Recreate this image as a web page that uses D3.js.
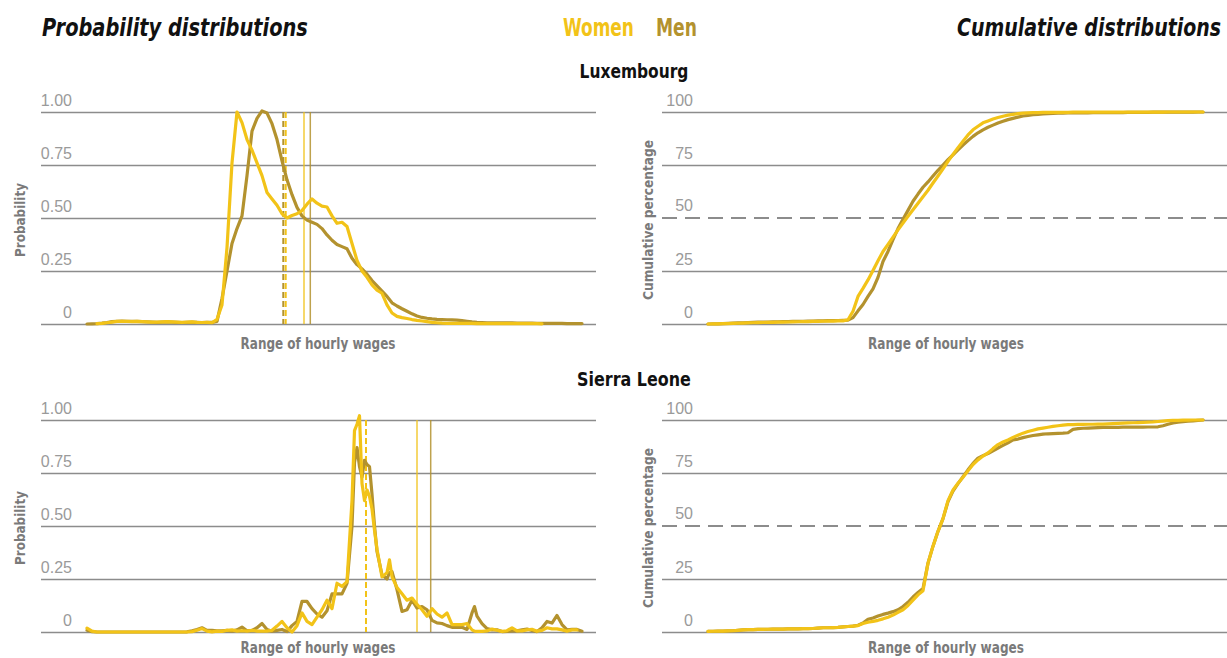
<!DOCTYPE html>
<html>
<head>
<meta charset="utf-8">
<script src="https://cdn.jsdelivr.net/npm/d3@7"></script>
<style>
  html, body { margin: 0; padding: 0; background: #fff; }
  svg { display: block; }
  .cond { font-family: "Liberation Sans Narrow", "DejaVu Sans Condensed", "Liberation Sans", Arial, sans-serif; }
  .tick text { font-family: "Liberation Sans", Arial, sans-serif; font-size: 16px; fill: #9a9a9a; }
</style>
</head>
<body>
<svg id="chart" width="1227" height="658"></svg>
<script>
// ---------------- DATA ----------------
const seriesNames = ["Women", "Men"];
const countries = ["Luxembourg", "Sierra Leone"];
const probTicks = [0, 0.25, 0.5, 0.75, 1];
const probTickLabels = ["0", "0.25", "0.50", "0.75", "1.00"];
const cumTicks = [0, 25, 75, 100];
const cumTickLabels = ["0", "25", "75", "100"];
const cumLabel50 = "50";

// Luxembourg probability distribution (by wage bin 0..99)
const luxMen = [0.0,0.001,0.002,0.004,0.007,0.011,0.013,0.014,0.013,0.012,
  0.012,0.011,0.01,0.009,0.008,0.009,0.01,0.009,0.008,0.007,
  0.008,0.009,0.008,0.007,0.008,0.008,0.012,0.12,0.25,0.38,
  0.45,0.51,0.70,0.91,0.97,1.005,0.995,0.945,0.87,0.77,
  0.68,0.61,0.55,0.51,0.49,0.48,0.47,0.45,0.42,0.395,
  0.375,0.365,0.355,0.31,0.28,0.26,0.235,0.205,0.18,0.155,
  0.13,0.10,0.085,0.072,0.06,0.048,0.038,0.031,0.027,0.024,
  0.022,0.021,0.02,0.019,0.018,0.016,0.013,0.01,0.008,0.007,
  0.006,0.006,0.006,0.005,0.005,0.005,0.004,0.004,0.004,0.004,
  0.003,0.003,0.003,0.003,0.003,0.003,0.002,0.002,0.002,0.002];
const luxWomen = [null,null,0.002,0.003,0.006,0.009,0.012,0.013,0.012,0.011,
  0.012,0.011,0.01,0.009,0.009,0.01,0.011,0.01,0.009,0.008,
  0.009,0.01,0.008,0.007,0.008,0.006,0.022,0.09,0.36,0.76,
  1.0,0.95,0.87,0.82,0.76,0.70,0.62,0.59,0.56,0.52,
  0.50,0.512,0.52,0.535,0.565,0.59,0.57,0.556,0.552,0.51,
  0.475,0.48,0.46,0.38,0.30,0.25,0.22,0.185,0.16,0.145,
  0.09,0.052,0.036,0.03,0.026,0.021,0.017,0.014,0.011,0.008,
  0.006,0.004,0.003,0.003,0.003,0.003,0.003,0.003,0.002,0.002,
  0.002,0.002,0.002,0.002,0.002,0.002,0.002,0.002,0.002,0.002,
  0.002,0.001];
// medians (dashed) and means (solid), in wage-bin units
const luxMedian = { Men: 39.26, Women: 39.74 };
const luxMean = { Men: 44.66, Women: 43.4 };

// Sierra Leone probability distribution
const sleBins = [0,1,2,3,4,5,6,7,8,9,10,11,12,13,14,15,16,17,18,19,20,
  21,22,23,24,25,26,27,28,29,30,31,32,33,34,35,36,37,38,39,40,
  41,42,43,44,45,46,47,48,49,50,51,52,53,53.5,54,54.5,55,55.5,56,56.5,57,57.5,58,
  59,60,60.5,61,62,63,64,65,66,67,68,69,70,71,72,73,74,75,76,77,77.5,78,79,80,
  81,82,83,84,85,86,87,88,89,90,91,92,93,94,95,96,97,98,99];
const sleMen = [0.008,0.002,0,0,0,0,0,0,0,0,0,0,0,0,0,0,0,0,0,0,0.001,
  0.006,0.012,0.02,0.008,0.008,0.005,0.006,0.008,0.004,0.01,
  0.023,0.006,0.008,0.02,0.04,0.012,0.004,0.008,0.012,0.002,
  0.03,0.05,0.144,0.144,0.11,0.085,0.07,0.1,0.18,0.18,0.18,0.23,0.50,0.80,0.87,0.78,0.73,0.81,0.79,0.78,0.65,0.50,0.38,
  0.27,0.25,0.28,0.285,0.20,0.097,0.105,0.15,0.113,0.12,0.105,0.055,0.043,0.04,0.03,0.022,0.022,0.022,0.012,0.09,0.12,0.075,0.04,0.016,
  0.01,0.01,0.002,0.003,0.005,0.005,0.01,0.014,0.007,0.002,0.02,0.05,0.042,0.078,0.035,0.01,0.012,0.012,0.004];
const sleWomen = [0.018,0.004,0,0,0,0,0,0,0,0,0,0,0,0,0,0,0,0,0,0,0,
  0.002,0.008,0.016,0.004,0.001,0.004,0.003,0.008,0.01,0.004,
  0.006,0.004,0.008,0.004,0.004,0.004,0.008,0.028,0.05,0.02,
  0.0,0.03,0.09,0.05,0.035,0.07,0.105,0.15,0.11,0.23,0.215,0.238,0.62,0.95,0.98,1.02,0.70,0.62,0.67,0.64,0.58,0.48,0.39,
  0.26,0.28,0.34,0.26,0.21,0.18,0.15,0.16,0.13,0.105,0.074,0.11,0.085,0.07,0.09,0.035,0.035,0.035,0.04,0.01,0.004,0.003,0.003,0.005,
  0.014,0.008,0.003,0.006,0.02,0.005,0.005,0.01,0.013,0.004,0.008,0.02,0.015,0.015,0.01,0.004,0.01,0.01,null];
const sleMedian = { Men: 55.8, Women: 55.8 };
const sleMean = { Men: 68.74, Women: 66.0 };

// Cumulative distributions (percent, by wage bin 0..99)
const luxCumMen = [0,0.05,0.1,0.2,0.3,0.4,0.5,0.6,0.7,0.8,
  0.85,0.9,0.95,1.0,1.05,1.1,1.15,1.2,1.25,1.3,
  1.35,1.4,1.45,1.5,1.55,1.6,1.65,1.7,1.8,3.0,
  6.2,9.2,13.0,16.6,22.0,29.5,34.2,39.8,45.0,49.4,
  53.6,57.9,61.3,64.5,67.0,69.8,72.5,75.0,77.5,79.8,
  82.1,84.4,86.5,88.5,90.2,91.6,92.8,93.8,94.8,95.6,
  96.4,97.0,97.6,98.1,98.4,98.7,98.9,99.1,99.2,99.3,
  99.4,99.5,99.55,99.55,99.6,99.6,99.6,99.65,99.65,99.7,
  99.7,99.7,99.75,99.75,99.8,99.8,99.8,99.85,99.85,99.9,
  99.9,99.9,99.92,99.94,99.95,99.96,99.97,99.98,99.99,100];
const luxCumWomen = [0,0.05,0.1,0.15,0.2,0.3,0.35,0.45,0.5,0.6,
  0.65,0.7,0.75,0.8,0.85,0.9,0.95,1.0,1.05,1.1,
  1.15,1.2,1.25,1.3,1.35,1.4,1.45,1.5,2.0,6.0,
  13.0,16.8,20.8,25.2,29.8,34.2,37.6,41.0,44.4,47.6,
  50.8,53.9,57.0,60.0,63.1,66.5,69.8,73.2,76.7,80.0,
  83.2,86.2,89.2,91.6,93.3,94.9,95.8,96.7,97.4,98.0,
  98.5,98.9,99.2,99.5,99.6,99.7,99.7,99.8,99.8,99.8,
  99.85,99.85,99.85,99.9,99.9,99.9,99.9,99.9,99.92,99.92,
  99.93,99.93,99.94,99.94,99.95,99.95,99.96,99.96,99.97,99.97,
  99.98,99.98,99.99,99.99,100,100,100,100,100,100];
const sleCumMen = [0.3,0.35,0.4,0.45,0.5,0.6,0.8,1.0,1.1,1.15,
  1.2,1.25,1.3,1.35,1.4,1.4,1.45,1.5,1.5,1.55,
  1.6,1.65,1.8,2.0,2.0,2.1,2.2,2.4,2.6,2.8,
  3.2,4.2,6.0,6.6,7.5,8.3,8.9,9.6,10.5,12.0,
  14.0,16.5,18.6,20.5,32.5,40.5,47.5,53.5,61.5,66.5,
  70.0,73.2,76.5,79.5,82.0,83.2,84.2,85.5,86.8,88.0,
  89.2,90.6,91.0,91.7,92.2,92.7,93.0,93.3,93.5,93.6,
  93.7,93.8,94.0,95.6,95.9,96.1,96.2,96.3,96.4,96.5,
  96.5,96.5,96.55,96.6,96.6,96.6,96.6,96.65,96.7,96.7,
  96.8,97.3,98.0,98.6,99.0,99.2,99.4,99.6,99.8,100];
const sleCumWomen = [0.3,0.35,0.4,0.45,0.5,0.6,0.8,1.0,1.1,1.15,
  1.2,1.25,1.3,1.35,1.4,1.4,1.45,1.5,1.5,1.55,
  1.6,1.65,1.8,2.0,2.0,2.1,2.2,2.4,2.6,2.8,
  3.0,4.0,4.6,5.0,5.5,6.2,7.0,8.0,9.3,10.5,
  12.5,15.0,17.5,19.5,32.5,40.5,47.5,53.5,62.0,67.0,
  70.2,73.0,76.0,79.0,81.2,83.0,84.5,86.5,88.4,89.6,
  90.6,91.8,92.8,93.8,94.6,95.2,95.8,96.2,96.6,97.0,
  97.3,97.6,97.8,97.8,97.9,97.9,98.0,98.0,98.1,98.1,
  98.2,98.3,98.4,98.5,98.6,98.7,98.8,98.9,99.0,99.1,
  99.3,99.5,99.7,99.8,99.8,99.9,99.9,100,100,100];

// ---------------- STYLE ----------------
const colors = { Women: "#F2C318", Men: "#B3922E" };
const gridColor = "#8c8c8c";
const axisTitleColor = "#7a7a7a";
const lineWidth = 3.2;

const svg = d3.select("#chart");

// condensed-looking text: natural font, then scaled horizontally to the reference width
function condText(sel, opts) {
  const t = sel.append("text").attr("class", "cond")
    .attr("font-size", opts.size).attr("font-weight", "bold")
    .attr("fill", opts.fill || "#111")
    .attr("text-anchor", opts.anchor || "start")
    .text(opts.text);
  if (opts.italic) t.attr("font-style", "italic");
  const w = t.node().getComputedTextLength() || opts.len;
  const sx = Math.min(1, opts.len / w);
  const rot = opts.rotate ? ` rotate(${opts.rotate})` : "";
  t.attr("transform", `translate(${opts.x},${opts.y})${rot} scale(${sx},1)`);
  return t;
}

// headings
condText(svg, { x: 42, y: 36, size: 25, italic: true, len: 266, text: "Probability distributions" });
condText(svg, { x: 1221, y: 36, size: 25, italic: true, anchor: "end", len: 264, text: "Cumulative distributions" });
const legendX = { Women: 563, Men: 656 };
const legendLen = { Women: 71, Men: 41 };
seriesNames.forEach(s => {
  condText(svg, { x: legendX[s], y: 36, size: 25, fill: colors[s], len: legendLen[s], text: s });
});

// panel geometry
const rows = [
  { name: countries[0], top: 112, bottom: 324, titleY: 78, titleLen: 109, xTitleDy: 25,
    pdf: { x: luxMen.map((d, i) => i), Men: luxMen, Women: luxWomen },
    median: luxMedian, mean: luxMean,
    cum: { Men: luxCumMen, Women: luxCumWomen } },
  { name: countries[1], top: 420, bottom: 632, titleY: 386, titleLen: 114, xTitleDy: 21,
    pdf: { x: sleBins, Men: sleMen, Women: sleWomen },
    median: sleMedian, mean: sleMean,
    cum: { Men: sleCumMen, Women: sleCumWomen } }
];
const leftPanel = { x0: 41, x1: 596, d0: 87, d1: 582 };
const rightPanel = { x0: 662, x1: 1227, d0: 708, d1: 1203 };

rows.forEach(row => {
  condText(svg, { x: 634, y: row.titleY, size: 19, anchor: "middle", len: row.titleLen, text: row.name });

  // ---------- LEFT: probability ----------
  const x = d3.scaleLinear().domain([0, 99]).range([leftPanel.d0, leftPanel.d1]);
  const y = d3.scaleLinear().domain([0, 1]).range([row.bottom, row.top]);
  const gL = svg.append("g");
  const axL = gL.append("g").attr("transform", `translate(${leftPanel.x0},0)`)
    .call(d3.axisLeft(y).tickValues(probTicks)
      .tickFormat((d, i) => probTickLabels[i])
      .tickSize(-(leftPanel.x1 - leftPanel.x0)));
  axL.select(".domain").remove();
  axL.selectAll(".tick line").attr("stroke", gridColor).attr("stroke-width", 1.5);
  axL.selectAll(".tick text").attr("x", 31).attr("dy", null).attr("y", -7)
    .attr("text-anchor", "end").attr("fill", "#9a9a9a");

  condText(gL, { x: 25, y: (row.top + row.bottom) / 2 + 2, rotate: -90,
    size: 14, anchor: "middle", fill: axisTitleColor, len: 74, text: "Probability" });
  condText(gL, { x: 318, y: row.bottom + row.xTitleDy, size: 15, anchor: "middle",
    fill: axisTitleColor, len: 155, text: "Range of hourly wages" });

  // median (dashed) and mean (solid) markers: men first, women on top
  ["Men", "Women"].forEach(s => {
    gL.append("line")
      .attr("x1", x(row.median[s])).attr("x2", x(row.median[s]))
      .attr("y1", y(1)).attr("y2", y(0))
      .attr("stroke", colors[s]).attr("stroke-width", 2).attr("stroke-dasharray", "6,3");
    gL.append("line")
      .attr("x1", x(row.mean[s])).attr("x2", x(row.mean[s]))
      .attr("y1", y(1)).attr("y2", y(0))
      .attr("stroke", colors[s]).attr("stroke-width", 1.5).attr("opacity", 0.85);
  });

  ["Men", "Women"].forEach(s => {
    const pts = row.pdf[s].map((v, i) => [row.pdf.x[i], v]);
    const line = d3.line().defined(d => d[1] !== null)
      .x(d => x(d[0])).y(d => y(d[1]));
    gL.append("path").datum(pts).attr("d", line)
      .attr("fill", "none").attr("stroke", colors[s]).attr("stroke-width", lineWidth)
      .attr("stroke-linejoin", "round").attr("stroke-linecap", "round");
  });

  // ---------- RIGHT: cumulative ----------
  const xr = d3.scaleLinear().domain([0, 99]).range([rightPanel.d0, rightPanel.d1]);
  const yr = d3.scaleLinear().domain([0, 100]).range([row.bottom, row.top]);
  const gR = svg.append("g");
  const axR = gR.append("g").attr("transform", `translate(${rightPanel.x0},0)`)
    .call(d3.axisLeft(yr).tickValues(cumTicks)
      .tickFormat((d, i) => cumTickLabels[i])
      .tickSize(-(rightPanel.x1 - rightPanel.x0)));
  axR.select(".domain").remove();
  axR.selectAll(".tick line").attr("stroke", gridColor).attr("stroke-width", 1.5);
  axR.selectAll(".tick text").attr("x", 31).attr("dy", null).attr("y", -7)
    .attr("text-anchor", "end").attr("fill", "#9a9a9a");
  // 50% dashed reference
  gR.append("line").attr("x1", rightPanel.x0).attr("x2", rightPanel.x1)
    .attr("y1", yr(50)).attr("y2", yr(50))
    .attr("stroke", gridColor).attr("stroke-width", 2).attr("stroke-dasharray", "15,8");
  gR.append("text").attr("x", rightPanel.x0 + 31).attr("y", yr(50) - 7)
    .attr("text-anchor", "end").attr("font-family", "Liberation Sans, Arial, sans-serif")
    .attr("font-size", 16).attr("fill", "#9a9a9a").text(cumLabel50);

  condText(gR, { x: 653, y: (row.top + row.bottom) / 2 + 2, rotate: -90,
    size: 14, anchor: "middle", fill: axisTitleColor, len: 160, text: "Cumulative percentage" });
  condText(gR, { x: 946, y: row.bottom + row.xTitleDy, size: 15, anchor: "middle",
    fill: axisTitleColor, len: 156, text: "Range of hourly wages" });

  ["Men", "Women"].forEach(s => {
    const line = d3.line().x((d, i) => xr(i)).y(d => yr(d));
    gR.append("path").datum(row.cum[s]).attr("d", line)
      .attr("fill", "none").attr("stroke", colors[s]).attr("stroke-width", lineWidth)
      .attr("stroke-linejoin", "round").attr("stroke-linecap", "round");
  });
});
</script>
</body>
</html>
